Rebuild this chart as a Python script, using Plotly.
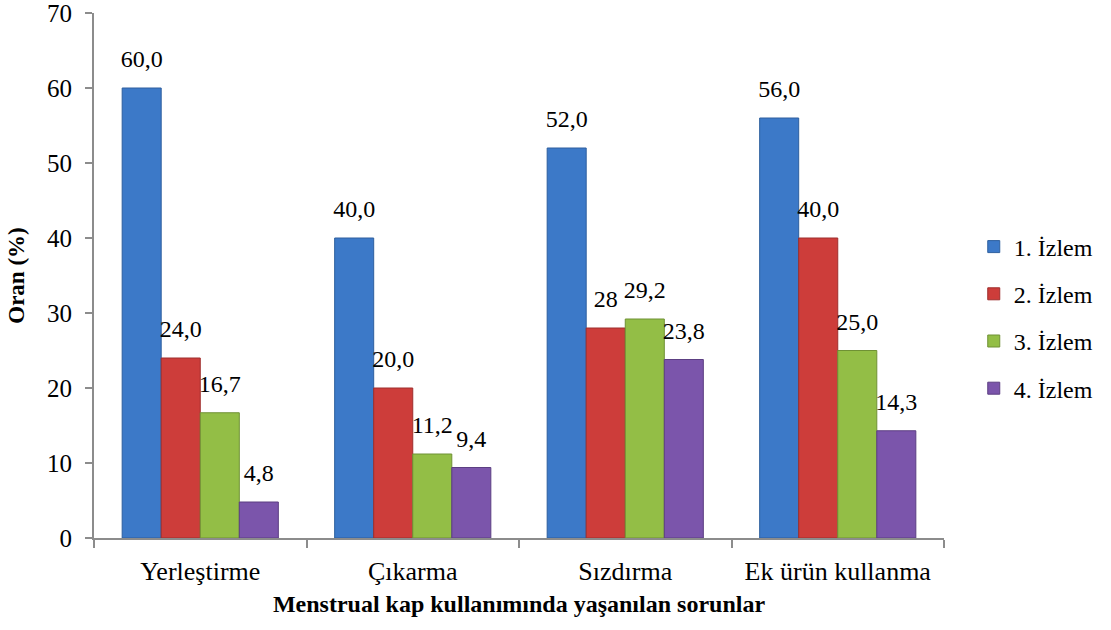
import plotly.graph_objects as go

# Problem categories on the x axis
categories = ["Yerleştirme", "Çıkarma", "Sızdırma", "Ek ürün kullanma"]

# Follow-up visits (series) and their percentage labels
series_names = ["1. İzlem", "2. İzlem", "3. İzlem", "4. İzlem"]
izlem1_labels = ["60,0", "40,0", "52,0", "56,0"]
izlem2_labels = ["24,0", "20,0", "28", "40,0"]
izlem3_labels = ["16,7", "11,2", "29,2", "25,0"]
izlem4_labels = ["4,8", "9,4", "23,8", "14,3"]

series_labels = [izlem1_labels, izlem2_labels, izlem3_labels, izlem4_labels]
colors = ["#3C79C8", "#CD3D3A", "#93BE46", "#7B55AB"]
edge_colors = ["#2E5F9E", "#9E2E2C", "#6F9134", "#5C3F82"]

FONT = "Liberation Serif"
GAP = 0.265

fig = go.Figure()
for i, (name, labels) in enumerate(zip(series_names, series_labels)):
    values = [float(s.replace(",", ".")) for s in labels]
    fig.add_trace(go.Bar(
        name=name,
        x=categories,
        y=values,
        marker=dict(color=colors[i], line=dict(color=edge_colors[i], width=1)),
        offsetgroup=str(i),
        legendgroup=name,
    ))
    # value labels, grouped like the bars; the invisible marker sets the gap
    fig.add_trace(go.Scatter(
        x=categories,
        y=values,
        mode="markers+text",
        text=labels,
        textposition="top center",
        textfont=dict(family=FONT, size=24, color="#000000"),
        marker=dict(size=22, color="rgba(0,0,0,0)"),
        offsetgroup=str(i),
        legendgroup=name,
        showlegend=False,
        hoverinfo="skip",
        cliponaxis=False,
    ))

fig.update_layout(
    width=1111,
    height=630,
    barmode="group",
    scattermode="group",
    bargap=GAP,
    scattergap=GAP,
    bargroupgap=0,
    plot_bgcolor="white",
    paper_bgcolor="white",
    margin=dict(l=94, r=167, t=13, b=92),
    font=dict(family=FONT, size=24, color="#000000"),
    legend=dict(
        x=1.035, y=0.42, xanchor="left", yanchor="middle",
        font=dict(family=FONT, size=24),
        traceorder="grouped",
        tracegroupgap=13,
        itemwidth=30,
    ),
    xaxis=dict(
        title=dict(text="<b>Menstrual kap kullanımında yaşanılan sorunlar</b>",
                   font=dict(family=FONT, size=24), standoff=10),
        showline=True, linecolor="#8C8C8C", linewidth=2,
        ticks="outside", tickson="boundaries", ticklen=8,
        tickcolor="#8C8C8C", tickwidth=2,
        ticklabelstandoff=9,
        ticklabeloverflow="allow",
        tickfont=dict(family=FONT, size=26),
        showgrid=False,
        automargin=False,
    ),
    yaxis=dict(
        title=dict(text="<b>Oran (%)</b>", font=dict(family=FONT, size=23), standoff=16),
        range=[0, 70], dtick=10,
        showline=True, linecolor="#8C8C8C", linewidth=2,
        ticks="outside", ticklen=7, tickcolor="#8C8C8C", tickwidth=2,
        ticklabelstandoff=8,
        ticklabeloverflow="allow",
        tickfont=dict(family=FONT, size=25),
        showgrid=False, zeroline=False,
        automargin=False,
    ),
)

fig.write_html("out.html")
